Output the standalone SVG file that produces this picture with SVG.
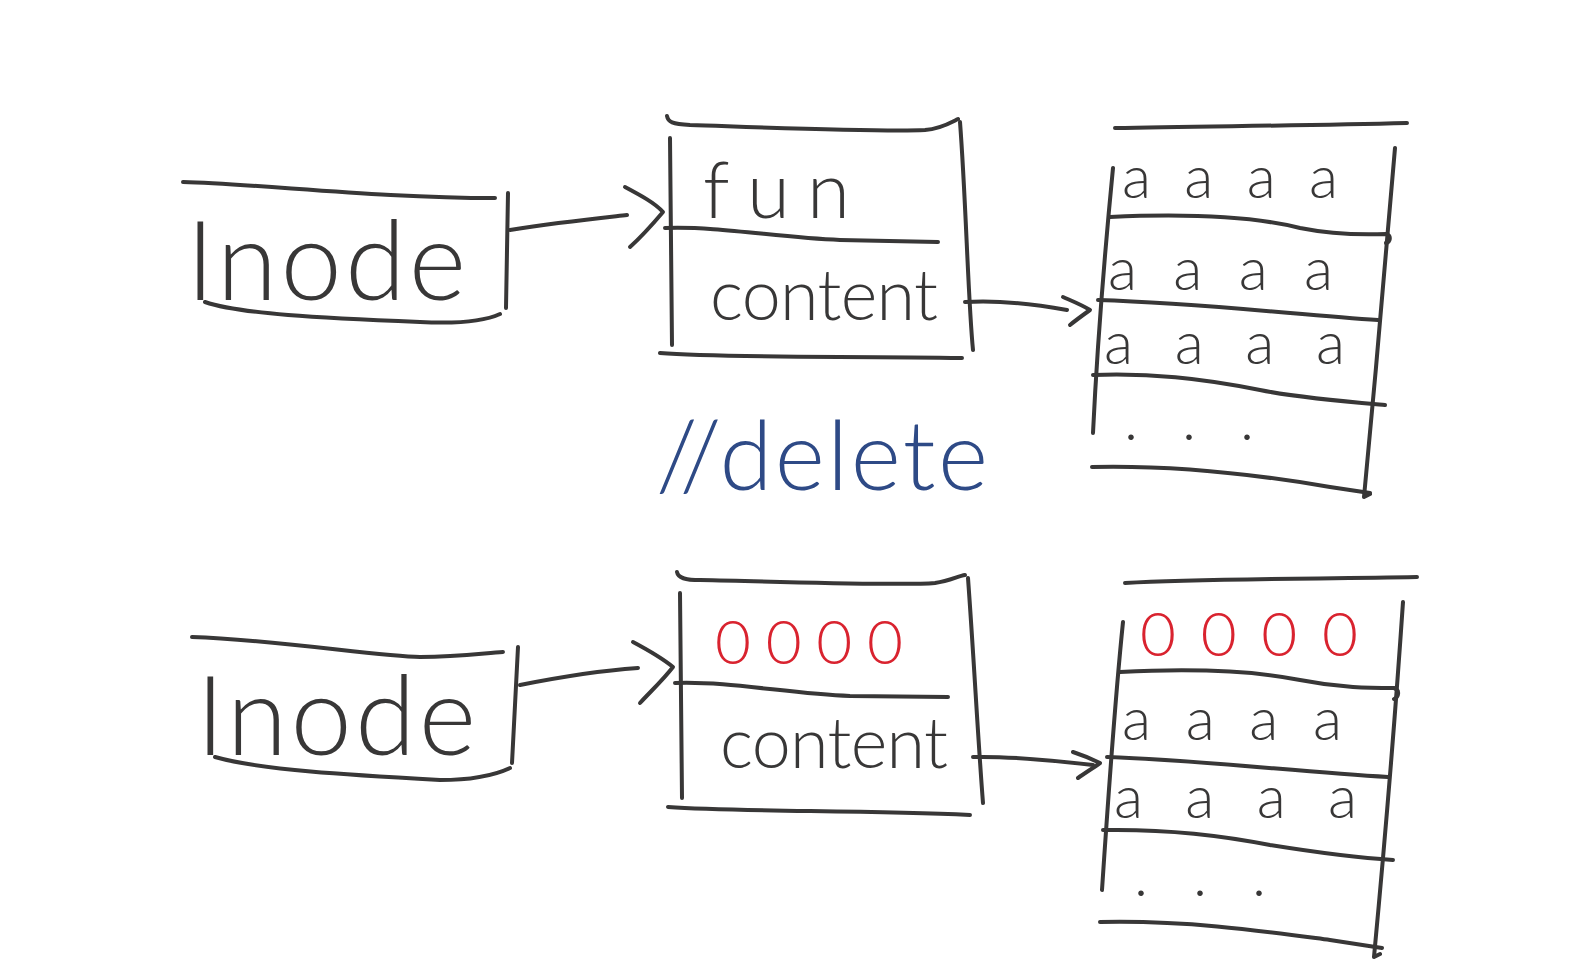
<svg xmlns="http://www.w3.org/2000/svg" width="1574" height="980" viewBox="0 0 1574 980">
<style>
.ln{fill:none;stroke:#383737;stroke-width:4;stroke-linecap:round;stroke-linejoin:round}
.t{font-family:Lato,"Open Sans","Liberation Sans",sans-serif;font-weight:300;fill:#383737}
.a{font-size:60px}
.r{fill:#d9232f}
.b{fill:#2e4a86}
</style>
<rect width="1574" height="980" fill="#ffffff"/>
<g id="inode1">
<path class="ln" d="M183,182 C260,184 380,198 495,198"/>
<path class="ln" d="M508,193 L506,308"/>
<path class="ln" d="M205,302 C240,314 320,318 420,322 C460,324 485,321 500,314"/>
<text class="t" x="186" y="300" font-size="110" textLength="280" lengthAdjust="spacing">Inode</text>
</g>
<g id="file1">
<path class="ln" d="M667,116 C668,122 672,124 690,125 C780,128 880,132 925,130 C940,129 950,123 958,119"/>
<path class="ln" d="M670,138 L672,345"/>
<path class="ln" d="M960,122 C966,200 968,300 973,350"/>
<path class="ln" d="M665,228 C720,226 780,238 840,240 L938,242"/>
<path class="ln" d="M660,353 C720,358 850,356 962,358"/>
<text class="t" x="703" y="218" font-size="78" textLength="147" lengthAdjust="spacing">fun</text>
<text class="t" x="710" y="320" font-size="70" textLength="228" lengthAdjust="spacing">content</text>
</g>
<g id="data1">
<path class="ln" d="M1115,128 C1200,126 1300,126 1407,123"/>
<path class="ln" d="M1113,168 C1105,250 1097,350 1093,433"/>
<path class="ln" d="M1395,148 C1385,270 1375,380 1364,497 L1370,494"/>
<path class="ln" d="M1110,217 C1200,213 1260,218 1300,228 C1330,234 1360,235 1386,234 C1392,236 1390,242 1386,243"/>
<path class="ln" d="M1098,300 C1200,303 1300,315 1378,320"/>
<path class="ln" d="M1093,375 C1150,373 1200,378 1260,390 C1300,398 1350,402 1385,405"/>
<path class="ln" d="M1092,467 C1180,465 1260,475 1330,487 L1370,493"/>
<text class="t a" x="1122" y="198" textLength="216" lengthAdjust="spacing">aaaa</text>
<text class="t a" x="1108" y="290" textLength="225" lengthAdjust="spacing">aaaa</text>
<text class="t a" x="1104" y="364" textLength="241" lengthAdjust="spacing">aaaa</text>
<text class="t" x="1124" y="440" font-size="60" textLength="130" lengthAdjust="spacing">...</text>
</g>
<g id="delete-note">
<text class="t b" x="656" y="490" font-size="96" textLength="332" lengthAdjust="spacing">//delete</text>
</g>
<g id="inode2">
<path class="ln" d="M192,637 C280,640 380,657 420,657 C460,657 485,653 503,652"/>
<path class="ln" d="M518,647 L512,763"/>
<path class="ln" d="M215,757 C260,770 350,775 440,780 C470,780 495,775 510,768"/>
<text class="t" x="196" y="755" font-size="110" textLength="280" lengthAdjust="spacing">Inode</text>
</g>
<g id="file2">
<path class="ln" d="M677,572 C678,578 685,580 700,580 C800,582 900,586 935,583 C950,581 958,576 965,575"/>
<path class="ln" d="M680,593 L682,798"/>
<path class="ln" d="M968,578 C974,660 978,740 983,803"/>
<path class="ln" d="M675,683 C730,681 790,694 850,696 L948,697"/>
<path class="ln" d="M668,807 C740,812 860,810 970,815"/>
<text class="t r" x="715" y="664" font-size="62" textLength="188" lengthAdjust="spacing">0000</text>
<text class="t" x="720" y="768" font-size="70" textLength="228" lengthAdjust="spacing">content</text>
</g>
<g id="data2">
<path class="ln" d="M1125,583 C1200,579 1300,579 1417,577"/>
<path class="ln" d="M1123,622 C1115,700 1108,800 1102,890"/>
<path class="ln" d="M1403,602 C1395,720 1385,840 1374,957 L1380,954"/>
<path class="ln" d="M1120,672 C1200,668 1260,672 1300,680 C1340,688 1370,688 1394,688 C1400,690 1399,697 1394,699"/>
<path class="ln" d="M1107,757 C1200,760 1300,772 1388,777"/>
<path class="ln" d="M1103,830 C1160,829 1220,835 1270,845 C1320,853 1360,858 1393,860"/>
<path class="ln" d="M1100,922 C1190,920 1270,932 1330,940 L1382,948"/>
<text class="t r" x="1140" y="656" font-size="62" textLength="218" lengthAdjust="spacing">0000</text>
<text class="t a" x="1122" y="740" textLength="220" lengthAdjust="spacing">aaaa</text>
<text class="t a" x="1114" y="818" textLength="243" lengthAdjust="spacing">aaaa</text>
<text class="t" x="1134" y="896" font-size="60" textLength="132" lengthAdjust="spacing">...</text>
</g>
<g id="connectors">
<path class="ln" d="M510,230 C560,222 600,218 627,215"/>
<path class="ln" d="M625,187 C640,195 655,203 663,212 C652,225 640,238 630,247"/>
<path class="ln" d="M965,302 C1000,300 1040,305 1067,310"/>
<path class="ln" d="M1063,297 C1072,301 1082,305 1090,310 C1083,315 1076,320 1070,325"/>
<path class="ln" d="M520,685 C570,675 610,670 638,668"/>
<path class="ln" d="M633,642 C648,650 662,658 673,667 C663,680 650,692 640,703"/>
<path class="ln" d="M973,757 C1010,756 1050,760 1093,765"/>
<path class="ln" d="M1073,752 C1082,755 1092,759 1100,763 C1093,768 1085,773 1078,778"/>
</g>
</svg>
